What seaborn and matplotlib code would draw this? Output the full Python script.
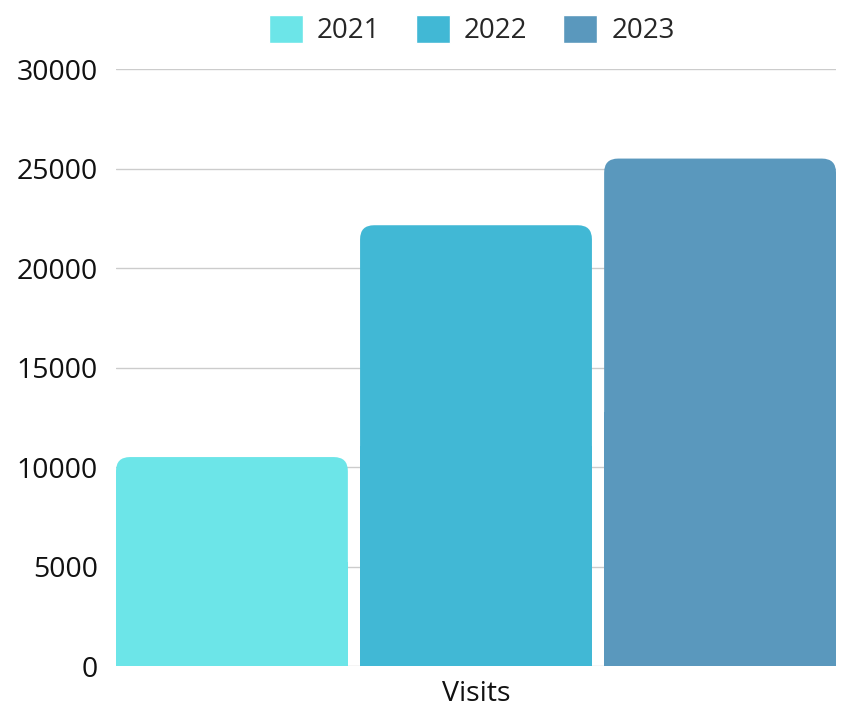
import numpy as np
import pandas as pd
import matplotlib.pyplot as plt
import seaborn as sns
from matplotlib.patches import FancyBboxPatch, Rectangle

# data
categories = ['Visits']
years = ['2021', '2022', '2023']
visits = [10500, 22150, 25500]
colors = ['#6CE5E8', '#41B8D5', '#5A98BD']

df = pd.DataFrame({'metric': categories * len(years), 'year': years, 'value': visits})

sns.set_style('white')
plt.rcParams['font.family'] = ['Open Sans', 'DejaVu Sans']

fig = plt.figure(figsize=(8.43, 7.19), dpi=100)
ax = fig.add_axes([0.1376, 0.0737, 0.8541, 0.8303])

sns.barplot(data=df, x='metric', y='value', hue='year', palette=colors,
            saturation=1, width=1.0, gap=0.05, ax=ax, legend=True)

ax.set_ylim(0, 30000)
ax.set_yticks(np.arange(0, 30001, 5000))
bars = list(ax.patches)[:len(years)]
left = min(b.get_x() for b in bars)
right = max(b.get_x() + b.get_width() for b in bars)
ax.set_xlim(left, right)
ax.grid(axis='y', color='#cccccc', linewidth=1)
ax.set_axisbelow(True)
for s in ax.spines.values():
    s.set_visible(False)
ax.tick_params(axis='both', length=0, labelsize=20.5, colors='#111111')
ax.tick_params(axis='y', pad=13)
ax.tick_params(axis='x', pad=10)
ax.set_xlabel('')
ax.set_ylabel('')

# rounded tops: swap seaborn's rectangles for rounded boxes
fig.canvas.draw()
px_x = (right - left) / ax.get_window_extent().width
px_y = 30000 / ax.get_window_extent().height
r = 14 * px_x
aspect = px_y / px_x
for b in bars:
    x, w, h = b.get_x(), b.get_width(), b.get_height()
    c = b.get_facecolor()
    b.set_visible(False)
    ax.add_patch(FancyBboxPatch((x, 0), w, h, boxstyle=f'round,pad=0,rounding_size={r}',
                                mutation_aspect=aspect, facecolor=c, edgecolor='none', zorder=3))
    ax.add_patch(Rectangle((x, 0), w, h / 2, facecolor=c, edgecolor='none', zorder=3))

ax.legend(loc='lower center', bbox_to_anchor=(0.494, 1.0), ncol=3, frameon=False,
          fontsize=20, handlelength=1.22, handleheight=1.22, handletextpad=0.5,
          columnspacing=1.3, borderaxespad=0.45)

fig.savefig('out.png', dpi=100)
